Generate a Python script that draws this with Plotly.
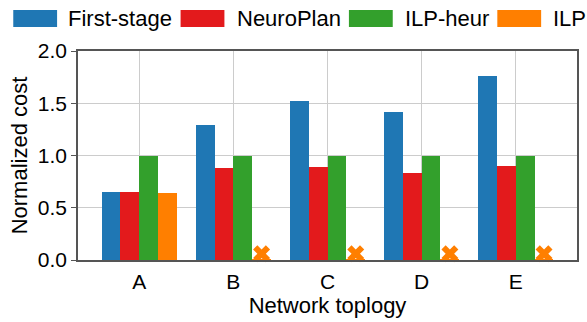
import plotly.graph_objects as go

# Normalized planning cost per network topology
topologies = ["A", "B", "C", "D", "E"]
first_stage = [0.65, 1.29, 1.52, 1.42, 1.76]
neuroplan = [0.65, 0.88, 0.89, 0.83, 0.90]
ilp_heur = [1.00, 1.00, 1.00, 1.00, 1.00]
ilp = [0.64, None, None, None, None]        # ILP did not finish on B-E
ilp_fail_mark = [None, 0.06, 0.06, 0.06, 0.06]
ilp_fail_base = [None, 0.008, 0.008, 0.008, 0.008]

series_names = ["First-stage", "NeuroPlan", "ILP-heur", "ILP"]
colors = ["#1f77b4", "#e31a1c", "#33a02c", "#ff7f00"]
offsets = [-0.3, -0.1, 0.1, 0.3]
bar_w = 0.2

idx = list(range(len(topologies)))
fig = go.Figure()

for vals, c, off in zip([first_stage, neuroplan, ilp_heur, ilp], colors, offsets):
    fig.add_trace(go.Bar(
        x=[i + off for i in idx], y=vals, width=bar_w,
        marker=dict(color=c, line=dict(width=0)), showlegend=False,
    ))

# thin base line + cross where ILP failed
fig.add_trace(go.Bar(
    x=[i + offsets[3] for i in idx], y=ilp_fail_base, width=bar_w,
    marker=dict(color=colors[3], line=dict(width=0)), showlegend=False,
))
fig.add_trace(go.Scatter(
    x=[i + offsets[3] for i in idx], y=ilp_fail_mark, mode="markers",
    marker=dict(symbol="x", size=15, color=colors[3], line=dict(width=0)),
    showlegend=False, cliponaxis=False,
))

font = "Liberation Sans, Arial, sans-serif"

# plot area in pixels: x 78..579, y 51..260
PL, PR, PT, PB = 78, 579, 51, 260
def px(x):
    return (x - PL) / (PR - PL)
def py(y):
    return (PB - y) / (PB - PT)

# legend drawn as wide swatches along the top
legend_items = [(13, 57, 66), (181, 225, 236), (350, 394, 404), (499, 543, 553)]
shapes = []
annotations = []
for (x0, x1, tx), name, c in zip(legend_items, series_names, colors):
    shapes.append(dict(type="rect", xref="paper", yref="paper",
                       x0=px(x0), x1=px(x1), y0=py(27), y1=py(10),
                       fillcolor=c, line=dict(width=0), layer="above"))
    annotations.append(dict(text=name, xref="paper", yref="paper",
                            x=px(tx), y=py(18.5),
                            xanchor="left", yanchor="middle", showarrow=False,
                            font=dict(family=font, size=22, color="#000")))

fig.update_layout(
    width=587, height=322,
    margin=dict(l=PL, r=587 - PR, t=PT, b=322 - PB),
    paper_bgcolor="white", plot_bgcolor="white",
    barmode="overlay", bargap=0,
    font=dict(family=font, size=21, color="#000"),
    shapes=shapes, annotations=annotations,
    xaxis=dict(
        range=[-0.65, 4.65], tickmode="array", tickvals=idx, ticktext=topologies,
        showgrid=True, gridcolor="#cccccc", gridwidth=1,
        showline=True, linecolor="#555555", linewidth=1.5, mirror=True,
        ticks="outside", ticklen=2, tickcolor="rgba(0,0,0,0)", zeroline=False,
        title=dict(text="Network toplogy", font=dict(size=22), standoff=6),
        tickfont=dict(size=21),
    ),
    yaxis=dict(
        range=[0, 2.0], tickmode="array", tickvals=[0, 0.5, 1.0, 1.5, 2.0],
        ticktext=["0.0", "0.5", "1.0", "1.5", "2.0"],
        showgrid=True, gridcolor="#cccccc", gridwidth=1,
        showline=True, linecolor="#555555", linewidth=1.5, mirror=True,
        ticks="outside", ticklen=5, tickcolor="#555555", zeroline=False,
        title=dict(text="Normalized cost", font=dict(size=22), standoff=4),
        tickfont=dict(size=21),
    ),
)

fig.write_html("out.html")
